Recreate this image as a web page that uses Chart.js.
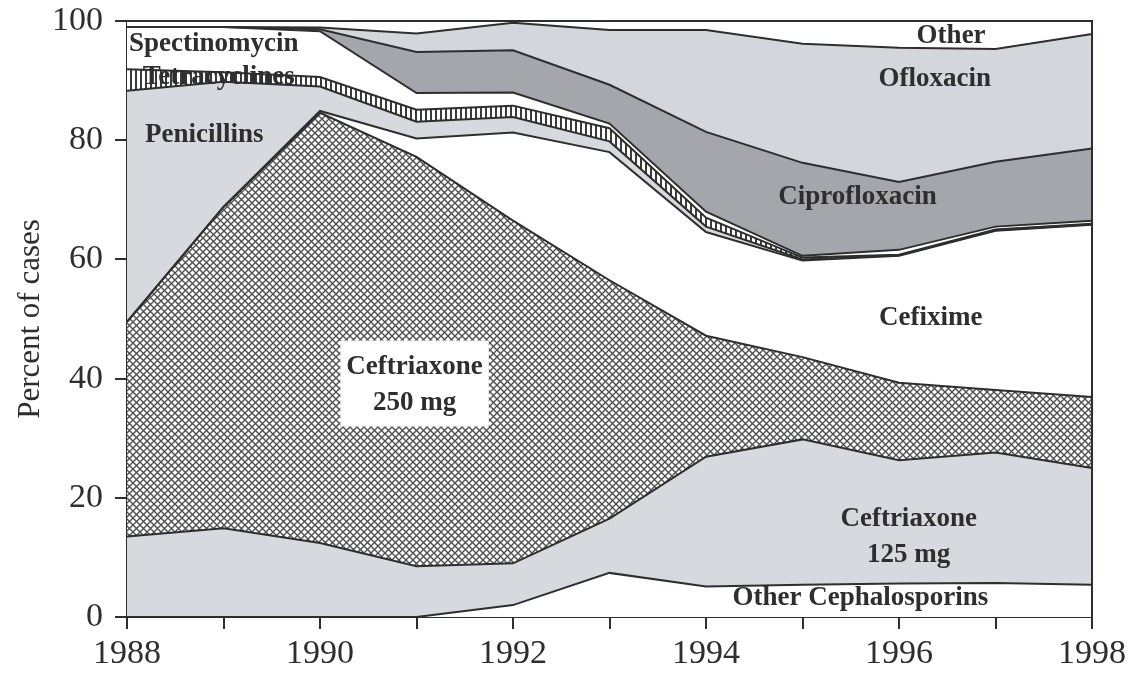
<!DOCTYPE html>
<html>
<head>
<meta charset="utf-8">
<title>Percent of cases by treatment, 1988-1998</title>
<script src="https://cdn.jsdelivr.net/npm/chart.js@4.4.1/dist/chart.umd.min.js"></script>
<style>
  html, body { margin: 0; padding: 0; background: #fff; }
  #wrap { width: 1133px; height: 677px; }
</style>
</head>
<body>
<div id="wrap"><canvas id="treatmentChart" width="1133" height="677"></canvas></div>
<script>
// Data: share of cases (%) per treatment, stacked bottom to top
var years = ['1988', '1989', '1990', '1991', '1992', '1993', '1994', '1995', '1996', '1997', '1998'];
var otherCephalosporins = [0, 0, 0, 0, 2.0, 7.4, 5.1, 5.4, 5.6, 5.7, 5.4];
var ceftriaxone125 = [13.5, 14.9, 12.4, 8.5, 7.0, 9.1, 21.8, 24.4, 20.7, 21.9, 19.6];
var ceftriaxone250 = [36.0, 53.9, 72.2, 68.7, 57.5, 40.0, 20.3, 13.8, 13.0, 10.5, 11.9];
var cefixime = [0, 0, 0.3, 3.1, 14.8, 21.5, 17.4, 16.2, 21.3, 26.7, 28.9];
var penicillins = [38.8, 21.0, 4.1, 2.8, 2.6, 1.8, 0.9, 0.2, 0.1, 0.1, 0.1];
var tetracyclines = [3.6, 1.6, 1.6, 2.0, 1.9, 2.2, 1.5, 0.3, 0.1, 0.1, 0.1];
var spectinomycin = [7.1, 7.6, 7.7, 2.8, 2.2, 0.8, 1.0, 0.3, 0.8, 0.5, 0.5];
var ciprofloxacin = [0, 0, 0.3, 6.9, 7.1, 6.5, 13.4, 15.6, 11.4, 10.9, 12.1];
var ofloxacin = [0, 0, 0.3, 3.1, 4.6, 9.2, 17.1, 20.0, 22.5, 18.9, 19.2];
var otherDrugs = [1.0, 1.0, 1.1, 2.1, 0.3, 1.5, 1.5, 3.8, 4.5, 4.7, 2.2];

var yTicks = [0, 20, 40, 60, 80, 100];

// In-chart labels, placed in data units (year index, percent)
var areaLabels = [
    { lines: ['Spectinomycin'], x: 0.0, y: 96.1, align: 'left' },
    { lines: ['Tetracyclines'], x: 0.95, y: 90.6 },
    { lines: ['Penicillins'], x: 0.8, y: 80.8 },
    { lines: ['Ceftriaxone', '250 mg'], x: 2.98, y: 39.0, boxed: true },
    { lines: ['Other'], x: 8.54, y: 97.4 },
    { lines: ['Ofloxacin'], x: 8.37, y: 90.3 },
    { lines: ['Ciprofloxacin'], x: 7.57, y: 70.5 },
    { lines: ['Cefixime'], x: 8.33, y: 50.2 },
    { lines: ['Ceftriaxone', '125 mg'], x: 8.1, y: 13.4 },
    { lines: ['Other Cephalosporins'], x: 7.6, y: 3.2 }
];

var INK = '#2e2e2e';
var SERIF = "'Liberation Serif', 'Times New Roman', serif";

// ---------- Fill patterns ----------

function crossHatch() {
    var c = document.createElement('canvas');
    c.width = 7; c.height = 7;
    var g = c.getContext('2d');
    g.fillStyle = '#ffffff';
    g.fillRect(0, 0, 7, 7);
    g.strokeStyle = '#505050';
    g.lineWidth = 1.4;
    g.beginPath();
    g.moveTo(-1, -1); g.lineTo(8, 8);
    g.moveTo(8, -1); g.lineTo(-1, 8);
    g.stroke();
    return g.createPattern(c, 'repeat');
}

function verticalStripes() {
    var c = document.createElement('canvas');
    c.width = 5; c.height = 4;
    var g = c.getContext('2d');
    g.fillStyle = '#ffffff';
    g.fillRect(0, 0, 5, 4);
    g.fillStyle = '#3a3a3a';
    g.fillRect(0, 0, 2, 4);
    return g.createPattern(c, 'repeat');
}

var LIGHT = '#d7d9de';
var DARK = '#a4a6ab';

function layer(label, data, fill, first) {
    return {
        label: label,
        data: data,
        backgroundColor: fill,
        borderColor: INK,
        borderWidth: 2,
        pointRadius: 0,
        tension: 0,
        fill: first ? 'origin' : '-1'
    };
}

// ---------- Plugins ----------

// closes the plot frame on the top and right
var framePlugin = {
    id: 'frame',
    afterDatasetsDraw: function (chart) {
        var a = chart.chartArea, ctx = chart.ctx;
        ctx.save();
        ctx.strokeStyle = INK;
        ctx.lineWidth = 2;
        ctx.beginPath();
        ctx.moveTo(a.left, a.top);
        ctx.lineTo(a.right, a.top);
        ctx.lineTo(a.right, a.bottom);
        ctx.stroke();
        ctx.restore();
    }
};

var labelPlugin = {
    id: 'areaLabels',
    afterDatasetsDraw: function (chart) {
        var ctx = chart.ctx;
        var xs = chart.scales.x, ys = chart.scales.y;
        var lineH = 36;
        ctx.save();
        ctx.font = 'bold 27px ' + SERIF;
        ctx.textBaseline = 'middle';
        areaLabels.forEach(function (l) {
            var px = xs.getPixelForValue(l.x);
            var py = ys.getPixelForValue(l.y);
            var top = py - (l.lines.length - 1) * lineH / 2;
            if (l.boxed) {
                var w = 0;
                l.lines.forEach(function (t) { w = Math.max(w, ctx.measureText(t).width); });
                ctx.fillStyle = '#ffffff';
                ctx.fillRect(px - w / 2 - 6, top - lineH / 2 - 8, w + 12, l.lines.length * lineH + 14);
            }
            ctx.fillStyle = INK;
            ctx.textAlign = l.align || 'center';
            l.lines.forEach(function (t, i) {
                ctx.fillText(t, px + (l.align === 'left' ? 2 : 0), top + i * lineH);
            });
        });
        ctx.restore();
    }
};

// ---------- Chart ----------

new Chart(document.getElementById('treatmentChart').getContext('2d'), {
    type: 'line',
    data: {
        labels: years,
        datasets: [
            layer('Other Cephalosporins', otherCephalosporins, '#ffffff', true),
            layer('Ceftriaxone 125 mg', ceftriaxone125, LIGHT),
            layer('Ceftriaxone 250 mg', ceftriaxone250, crossHatch()),
            layer('Cefixime', cefixime, '#ffffff'),
            layer('Penicillins', penicillins, LIGHT),
            layer('Tetracyclines', tetracyclines, verticalStripes()),
            layer('Spectinomycin', spectinomycin, '#ffffff'),
            layer('Ciprofloxacin', ciprofloxacin, DARK),
            layer('Ofloxacin', ofloxacin, '#d3d6db'),
            layer('Other', otherDrugs, '#ffffff')
        ]
    },
    options: {
        responsive: false,
        animation: false,
        devicePixelRatio: 1,
        layout: { padding: { top: 21, right: 41, left: 0, bottom: 0 } },
        plugins: {
            legend: { display: false },
            tooltip: { enabled: false },
            filler: { drawTime: 'beforeDatasetsDraw' }
        },
        scales: {
            x: {
                type: 'category',
                offset: false,
                grid: { drawOnChartArea: false, drawTicks: true, tickLength: 12, color: INK, lineWidth: 2 },
                border: { display: true, color: INK, width: 2 },
                ticks: {
                    autoSkip: false,
                    maxRotation: 0,
                    padding: 5,
                    color: INK,
                    font: { family: SERIF, size: 34 },
                    callback: function (v, i) { return i % 2 === 0 ? years[i] : ''; }
                },
                afterFit: function (s) { s.height = 60; }
            },
            y: {
                stacked: true,
                min: 0,
                max: 100,
                afterBuildTicks: function (s) {
                    s.ticks = yTicks.map(function (v) { return { value: v }; });
                },
                grid: { drawOnChartArea: false, drawTicks: true, tickLength: 12, color: INK, lineWidth: 2 },
                border: { display: true, color: INK, width: 2 },
                ticks: { padding: 12, color: INK, font: { family: SERIF, size: 34 } },
                title: {
                    display: true,
                    text: 'Percent of cases',
                    color: INK,
                    font: { family: SERIF, size: 31 },
                    padding: { top: 12, bottom: 0 }
                },
                afterFit: function (s) {
                    s.width = 127;
                    s.paddingTop = 0;
                    s.paddingBottom = 0;
                }
            }
        }
    },
    plugins: [framePlugin, labelPlugin]
});
</script>
</body>
</html>
